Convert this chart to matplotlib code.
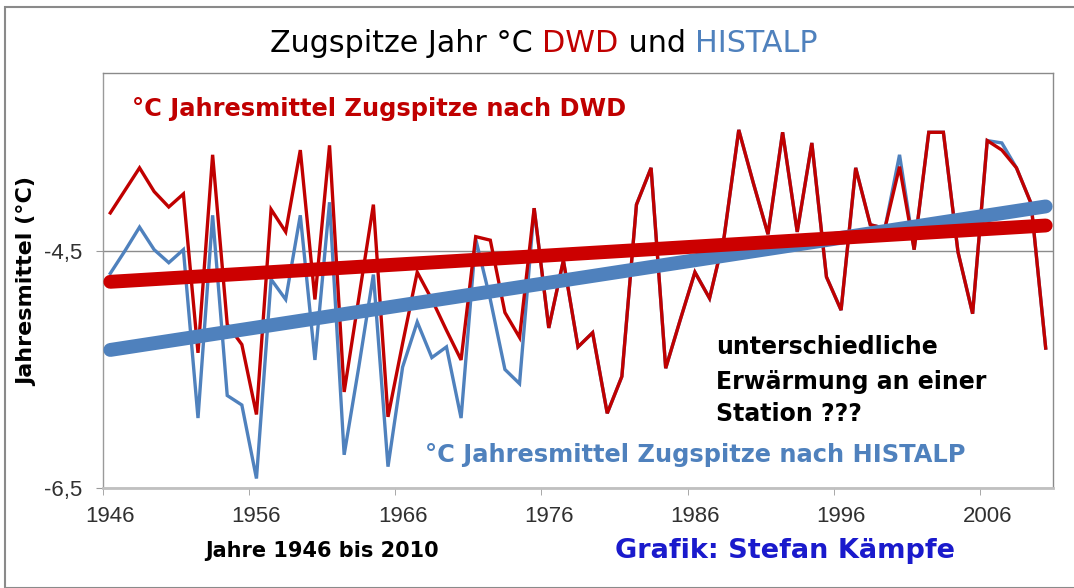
import matplotlib
matplotlib.use("Agg")
import matplotlib.pyplot as plt
import numpy as np
from matplotlib.patches import Rectangle

# ---------------- data ----------------
years = list(range(1946, 2011))
dwd = [-4.18, -3.99, -3.80, -4.00, -4.13, -4.02, -5.36, -3.69, -5.12, -5.29,
       -5.88, -4.15, -4.34, -3.65, -4.91, -3.61, -5.69, -4.90, -4.11, -5.90,
       -5.28, -4.68, -4.91, -5.17, -5.42, -4.38, -4.41, -5.02, -5.23, -4.14,
       -5.15, -4.58, -5.31, -5.19, -5.87, -5.56, -4.11, -3.80, -5.49, -5.08,
       -4.68, -4.90, -4.38, -3.48, -3.93, -4.36, -3.50, -4.34, -3.59, -4.72,
       -5.00, -3.80, -4.28, -4.31, -3.79, -4.49, -3.50, -3.50, -4.51, -5.03,
       -3.57, -3.65, -3.80, -4.10, -5.32]
histalp = [-4.69, -4.50, -4.30, -4.49, -4.60, -4.49, -5.91, -4.20, -5.72, -5.80,
           -6.42, -4.74, -4.91, -4.20, -5.42, -4.09, -6.22, -5.48, -4.70, -6.32,
           -5.48, -5.10, -5.40, -5.31, -5.91, -4.40, -4.91, -5.50, -5.62, -4.14,
           -5.15, -4.58, -5.31, -5.19, -5.87, -5.56, -4.11, -3.80, -5.49, -5.08,
           -4.68, -4.90, -4.38, -3.48, -3.93, -4.36, -3.50, -4.34, -3.59, -4.72,
           -5.00, -3.80, -4.28, -4.31, -3.69, -4.49, -3.50, -3.50, -4.51, -5.03,
           -3.57, -3.59, -3.80, -4.10, -5.32]
y_ticks = [-6.5, -4.5]
y_tick_labels = ["-6,5", "-4,5"]
x_label_years = [1946, 1956, 1966, 1976, 1986, 1996, 2006]

RED = "#c00000"
BLUE = "#4f81bd"
DV = ['DejaVu Sans']

W, H = 1074, 588
plt.rcParams['font.family'] = ['Liberation Sans', 'DejaVu Sans']
fig = plt.figure(figsize=(W / 100, H / 100), dpi=100)


def fx(px):
    return px / W


def fy(py):
    return 1 - py / H


# outer frame
fig.patches.append(Rectangle((fx(5), 0), 1 - fx(5) + 0.01, fy(7), transform=fig.transFigure,
                             fill=False, edgecolor="#8a8a8a", lw=1.5, clip_on=False))

ax = fig.add_axes([fx(103), fy(488), (1053 - 103) / W, (488 - 73) / H])
ax.set_xlim(1945.5, 2010.5)
ax.set_ylim(-6.5, -3.0)

x = np.array(years, dtype=float)
ax.plot(x, histalp, color=BLUE, lw=2.4, zorder=3, solid_joinstyle='miter')
ax.plot(x, dwd, color=RED, lw=2.4, zorder=4, solid_joinstyle='miter')

# linear trends
for series, col, z in ((histalp, BLUE, 5), (dwd, "#cc0000", 6)):
    k, d = np.polyfit(x, series, 1)
    xs = np.array([years[0], years[-1]], dtype=float)
    ax.plot(xs, k * xs + d, color=col, lw=10, solid_capstyle='round', zorder=z)

# axes styling
for s in ("top", "right"):
    ax.spines[s].set_color("#8a8a8a")
    ax.spines[s].set_linewidth(1.0)
ax.spines["left"].set_color("#9a9a9a")
ax.spines["left"].set_linewidth(1.0)
ax.spines["bottom"].set_color("#c0c0c0")
ax.spines["bottom"].set_linewidth(2.0)

ax.set_yticks(y_ticks)
ax.set_yticklabels(y_tick_labels)
ax.tick_params(axis='y', length=5, color="#9a9a9a", labelsize=16, labelcolor="#303030", pad=10)
ax.grid(axis='y', color="#8c8c8c", lw=1.0, zorder=1)

ax.set_xticks(x_label_years)
ax.set_xticklabels([str(v) for v in x_label_years])
ax.set_xticks([v - 0.5 for v in x_label_years], minor=True)
ax.tick_params(axis='x', which='major', length=0, labelsize=16, labelcolor="#303030", pad=13)
ax.tick_params(axis='x', which='minor', length=5, color="#9a9a9a")

# y axis label as figure text (rotated)
fig.text(fx(27), fy(282), "Jahresmittel (°C)", fontsize=16, fontweight='bold', family=DV,
         rotation=90, ha='center', va='center')

# title with coloured parts
TS = 21.7
t1 = fig.text(fx(270), fy(52), "Zugspitze Jahr °C ", fontsize=TS, family=DV, color="black", va='baseline')
t2 = fig.text(0, 0, "DWD", fontsize=TS, family=DV, color=RED, va='baseline')
t3 = fig.text(0, 0, " und ", fontsize=TS, family=DV, color="black", va='baseline')
t4 = fig.text(0, 0, "HISTALP", fontsize=TS, family=DV, color=BLUE, va='baseline')
fig.canvas.draw()
r = fig.canvas.get_renderer()
prev = t1
for t in (t2, t3, t4):
    bb = prev.get_window_extent(renderer=r)
    t.set_position((bb.x1 / W, fy(52)))
    prev = t

LS = 17.4
fig.text(fx(132), fy(116), "°C Jahresmittel Zugspitze nach DWD", fontsize=LS, family=DV,
         fontweight='bold', color=RED, va='baseline')
fig.text(fx(425), fy(462), "°C Jahresmittel Zugspitze nach HISTALP", fontsize=LS, family=DV,
         fontweight='bold', color=BLUE, va='baseline')
AS = 17.0
fig.text(fx(716), fy(354), "unterschiedliche", fontsize=AS, family=DV, fontweight='bold', color="black", va='baseline')
fig.text(fx(716), fy(389), "Erwärmung an einer", fontsize=AS, family=DV, fontweight='bold', color="black", va='baseline')
fig.text(fx(716), fy(421), "Station ???", fontsize=AS, family=DV, fontweight='bold', color="black", va='baseline')

fig.text(fx(205), fy(557), "Jahre 1946 bis 2010", fontsize=15.0, family=DV, fontweight='bold', color="black", va='baseline')
fig.text(fx(615), fy(558), "Grafik: Stefan Kämpfe", fontsize=19.5, family=DV, fontweight='bold', color="#1a1acc", va='baseline')

fig.savefig("out.png", dpi=100)
